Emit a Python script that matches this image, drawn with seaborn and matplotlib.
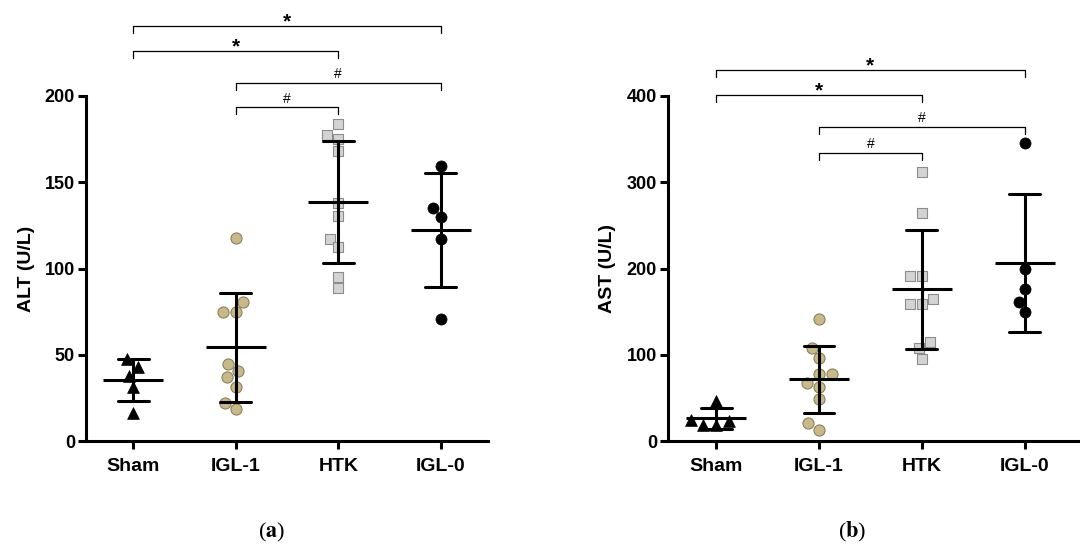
import numpy as np
import pandas as pd
import matplotlib
matplotlib.use('Agg')
import matplotlib.pyplot as plt
import seaborn as sns

# Groups and values
groups = ['Sham', 'IGL-1', 'HTK', 'IGL-0']

alt_sham = [43.1, 37.9, 47.5, 31.1, 16.4]
alt_igl1 = [117.9, 80.4, 75.0, 74.6, 44.4, 40.6, 36.9, 31.5, 22.2, 18.6]
alt_htk = [183.8, 177.4, 175.1, 168.1, 138.2, 130.6, 117.3, 112.6, 95.3, 88.5]
alt_igl0 = [159.4, 135.1, 129.9, 116.9, 70.5]

ast_sham = [46.8, 24.3, 23.2, 18.5, 18.5]
ast_igl1 = [141.4, 108.2, 96.6, 78.1, 78.1, 67.6, 63.0, 48.7, 20.5, 12.8]
ast_htk = [312.2, 264.7, 191.3, 191.3, 164.6, 158.5, 158.5, 114.4, 108.2, 95.1]
ast_igl0 = [345.2, 199.1, 176.2, 161.5, 149.2]

# comparisons: (group a, group b, label)
comparisons = [('Sham', 'IGL-0', '*'), ('Sham', 'HTK', '*'),
               ('IGL-1', 'IGL-0', '#'), ('IGL-1', 'HTK', '#')]


def make_df(vals):
    rows = []
    for g, v in zip(groups, vals):
        for x in v:
            rows.append((g, x))
    return pd.DataFrame(rows, columns=['group', 'value'])


df_alt = make_df([alt_sham, alt_igl1, alt_htk, alt_igl0])
df_ast = make_df([ast_sham, ast_igl1, ast_htk, ast_igl0])

sns.set_style('ticks', {'axes.edgecolor': 'black', 'text.color': 'black',
                        'axes.labelcolor': 'black', 'xtick.color': 'black',
                        'ytick.color': 'black'})
plt.rcParams['font.family'] = ['Liberation Sans', 'DejaVu Sans']
plt.rcParams['mathtext.fontset'] = 'stix'

styles = {
    'Sham': dict(marker='^', color='black', edgecolor='black', size=8.5, linewidth=0.5),
    'IGL-1': dict(marker='o', color='#c8b98a', edgecolor='#8c8060', size=8, linewidth=0.8),
    'HTK': dict(marker='s', color='#d3d3d3', edgecolor='#8c8c8c', size=7.5, linewidth=0.8),
    'IGL-0': dict(marker='o', color='black', edgecolor='black', size=8, linewidth=0.5),
}

fig = plt.figure(figsize=(10.8, 5.44), dpi=100)
W, H = 1080, 544
ax_a = fig.add_axes([86 / W, 1 - 441 / H, (488 - 86) / W, (441 - 96) / H])
ax_b = fig.add_axes([668 / W, 1 - 441 / H, (1080 - 668) / W, (441 - 96) / H])


def draw_panel(ax, df, ylabel, ymax, yticks, bracket_h, drop, xlim):
    for g in groups:
        sub = df[df['group'] == g]
        sns.swarmplot(data=sub, x='group', y='value', order=groups, ax=ax,
                      zorder=2, **styles[g])
    sns.pointplot(data=df, x='group', y='value', order=groups, ax=ax,
                  errorbar='sd', capsize=0.3, color='black',
                  marker='_', markersize=42.5, markeredgewidth=2.2,
                  linestyle='none', err_kws={'linewidth': 2.2, 'zorder': 4},
                  zorder=4)
    ax.set_xlim(*xlim)
    ax.set_ylim(0, ymax)
    ax.set_yticks(yticks)
    ax.set_xlabel('')
    ax.set_ylabel(ylabel, fontsize=14, fontweight='bold')
    ax.yaxis.set_label_coords(-0.127, 0.5)
    for s in ['top', 'right']:
        ax.spines[s].set_visible(False)
    for s in ['left', 'bottom']:
        ax.spines[s].set_linewidth(2.2)
    ax.tick_params(axis='both', width=2.2, length=6, color='black', labelcolor='black')
    ax.tick_params(axis='y', labelsize=13, pad=2)
    ax.tick_params(axis='x', labelsize=14, pad=6)
    for lab in ax.get_xticklabels() + ax.get_yticklabels():
        lab.set_fontweight('bold')

    # significance brackets
    for (g1, g2, lab), h in zip(comparisons, bracket_h):
        x1, x2 = groups.index(g1), groups.index(g2)
        ax.plot([x1, x1, x2, x2], [h - drop, h, h, h - drop], color='black',
                linewidth=0.9, clip_on=False)
        if lab == '*':
            ax.annotate(lab, xy=((x1 + x2) / 2, h), xytext=(0, -1),
                        textcoords='offset points', ha='center', va='baseline',
                        fontsize=15, fontweight='bold', annotation_clip=False)
        else:
            ax.annotate(lab, xy=((x1 + x2) / 2, h), xytext=(0, 3.5),
                        textcoords='offset points', ha='center', va='baseline',
                        fontsize=10, annotation_clip=False)


draw_panel(ax_a, df_alt, 'ALT (U/L)', 200, [0, 50, 100, 150, 200],
           [240.6, 226.3, 207.4, 193.4], 4.0, (-0.46, 3.46))
draw_panel(ax_b, df_ast, 'AST (U/L)', 400, [0, 100, 200, 300, 400],
           [430.1, 401.2, 364.4, 334.3], 8.0, (-0.47, 3.54))

fig.text(272 / W, 1 - 532 / H, r'($\mathbf{a}$)', ha='center', va='center',
         fontsize=16, family='Liberation Serif')
fig.text(852 / W, 1 - 532 / H, r'($\mathbf{b}$)', ha='center', va='center',
         fontsize=16, family='Liberation Serif')

fig.savefig('out.png', dpi=100)
